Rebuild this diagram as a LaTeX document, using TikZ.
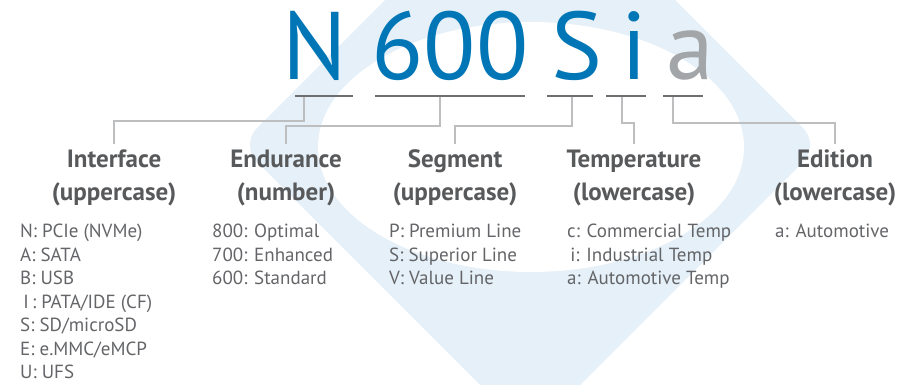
\documentclass[tikz,border=0pt]{standalone}
\usepackage{fontspec}
\setmainfont{PT Sans}
\definecolor{brandblue}{RGB}{0,118,182}
\definecolor{editgray}{RGB}{163,166,169}
\definecolor{wmblue}{RGB}{229,240,248}
\definecolor{titlegray}{RGB}{88,89,91}
\definecolor{bodygray}{RGB}{100,101,104}
\definecolor{ulgray}{RGB}{109,110,113}
\definecolor{conngray}{RGB}{188,190,192}
\begin{document}
\begin{tikzpicture}[x=1pt,y=-1pt,
  big/.style={anchor=base,inner sep=0pt,font=\fontsize{96}{96}\selectfont,text=brandblue},
  uline/.style={draw=ulgray,line width=2.5pt},
  conn/.style={draw=conngray,line width=2pt},
  ttl/.style={anchor=north,inner sep=0pt,align=center,text=titlegray,font=\fontsize{25}{33}\selectfont\bfseries},
  lst/.style={anchor=north west,inner sep=0pt,align=left,text=bodygray,font=\fontsize{19}{23.5}\selectfont}]
\useasboundingbox (0,0) rectangle (903,385);
\begin{scope}
\clip (0,0) rectangle (903,385);
\fill[wmblue,rounded corners=24pt] (240,145) -- (530,-145) -- (820,145) -- (530,435) -- cycle;
\fill[white] (531,147) ellipse [x radius=213, y radius=125];
\end{scope}
% big code
\node[big] (bN) at (315,80) {N};
\node[big] (b600) at (450,80) {600};
\node[big] (bS) at (577,80) {S};
\node[big] (bi) at (634,80) {i};
\node[big,text=editgray] (ba) at (690,80) {a};
% underlines
\coordinate (uN1) at (295,96); \coordinate (uN2) at (353,96);
\coordinate (u61) at (375,96); \coordinate (u62) at (525,96);
\coordinate (uS1) at (547,96); \coordinate (uS2) at (593,96);
\coordinate (ui1) at (606,96); \coordinate (ui2) at (646,96);
\coordinate (ua1) at (663,96); \coordinate (ua2) at (703,96);
\draw[uline] (uN1) -- (uN2);
\draw[uline] (u61) -- (u62);
\draw[uline] (uS1) -- (uS2);
\draw[uline] (ui1) -- (ui2);
\draw[uline] (ua1) -- (ua2);
\coordinate (cN) at (304,97);
\coordinate (c6) at (440,97);
\coordinate (cS) at (572,97);
\coordinate (ci) at (622,97);
\coordinate (ca) at (673,97);
% titles
\node[ttl] (tInt) at (114,144) {\strut Interface\\(uppercase)};
\node[ttl] (tEnd) at (286,144) {\strut Endurance\\(number)};
\node[ttl] (tSeg) at (455,144) {\strut Segment\\(uppercase)};
\node[ttl] (tTmp) at (634,144) {\strut Temperature\\(lowercase)};
\node[ttl] (tEdi) at (835,144) {\strut Edition\\(lowercase)};
% connectors
\draw[conn] (cN) |- (tInt.north |- 0,121) -- (tInt.north);
\draw[conn] (c6) |- (tEnd.north |- 0,126) -- (tEnd.north);
\draw[conn] (cS) |- (tSeg.north |- 0,126) -- (tSeg.north);
\draw[conn] (ci) |- (tTmp.north |- 0,123) -- (tTmp.north);
\draw[conn] (ca) |- (tEdi.north |- 0,123) -- (tEdi.north);
% lists
\node[lst] (lInt) at (20,221) {\strut N: PCIe (NVMe)\\A: SATA\\B: USB\\\,I\,: PATA/IDE (CF)\\S: SD/microSD\\E: e.MMC/eMCP\\U: UFS};
\node[lst] (lEnd) at (212,221) {\strut 800: Optimal\\700: Enhanced\\600: Standard};
\node[lst] (lSeg) at (389,221) {\strut P: Premium Line\\S: Superior Line\\V: Value Line};
\node[lst] (lTmp) at (567,221) {\strut c: Commercial Temp\\\,i: Industrial Temp\\a: Automotive Temp};
\node[lst] (lEdi) at (775,221) {\strut a: Automotive};
\end{tikzpicture}
\end{document}
